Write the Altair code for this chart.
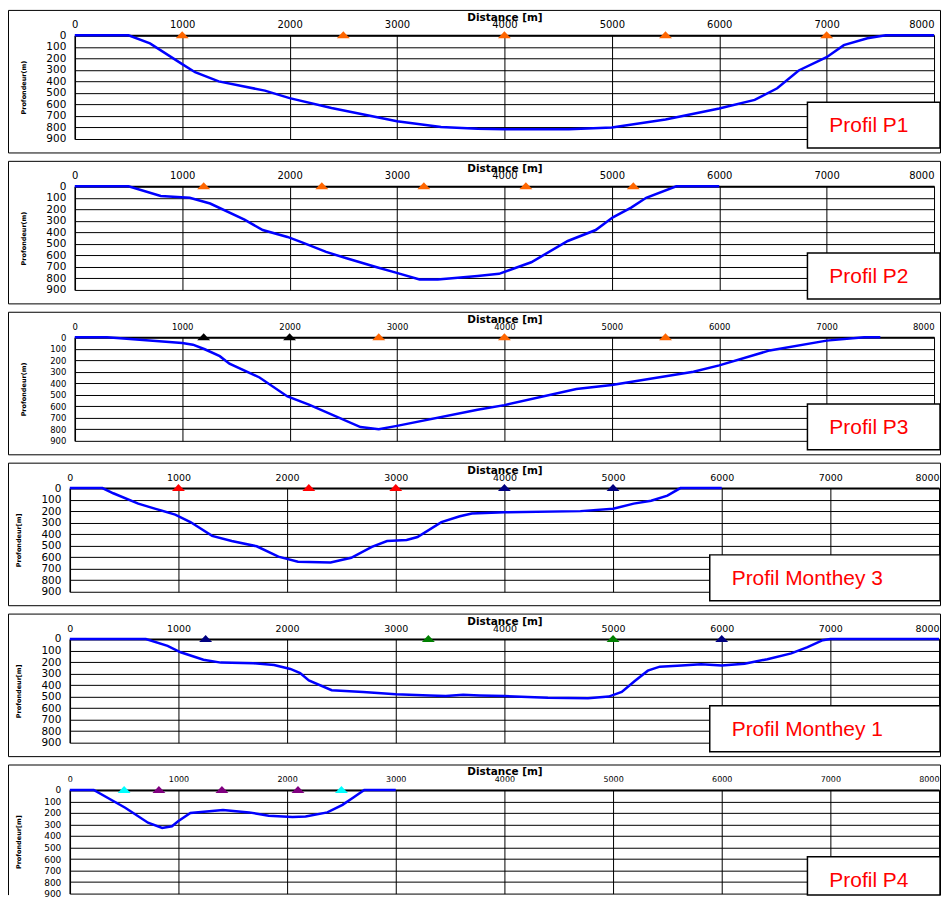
import altair as alt
import pandas as pd

# ---------------- data ----------------
X_TICKS = [0, 1000, 2000, 3000, 4000, 5000, 6000, 7000, 8000]
Y_TICKS = [0, 100, 200, 300, 400, 500, 600, 700, 800, 900]

p1_dist = [0, 500, 700, 1000, 1120, 1340, 1770, 2000, 2390, 3000, 3410, 3750, 4000, 4600,
           5000, 5500, 6000, 6330, 6540, 6740, 7000, 7160, 7380, 7550, 8000]
p1_depth = [0, 0, 70, 250, 320, 400, 480, 545, 630, 745, 795, 810, 815, 815,
            800, 730, 635, 560, 460, 305, 190, 85, 25, 0, 0]
p1_tri_dist = [1000, 2500, 4000, 5500, 7000]
p1_tri_kind = ["orange", "orange", "orange", "orange", "orange"]

p2_dist = [0, 500, 800, 1070, 1260, 1580, 1750, 1980, 2110, 2340, 2530, 2820, 2990, 3210,
           3380, 3750, 3950, 4250, 4590, 4850, 5010, 5180, 5320, 5600, 6000]
p2_depth = [0, 0, 85, 100, 150, 290, 380, 440, 485, 570, 625, 705, 750, 810,
            810, 780, 760, 660, 475, 380, 270, 185, 100, 0, 0]
p2_tri_dist = [1200, 2300, 3250, 4200, 5200]
p2_tri_kind = ["orange", "orange", "orange", "orange", "orange"]

p3_dist = [0, 300, 1000, 1100, 1210, 1350, 1440, 1720, 1980, 2180, 2660, 2830, 3000, 3750,
           4000, 4670, 5000, 5760, 6000, 6470, 7000, 7350, 7500]
p3_depth = [0, 0, 50, 65, 105, 165, 230, 350, 515, 585, 780, 800, 770, 630,
            590, 450, 415, 300, 245, 115, 30, 0, 0]
p3_tri_dist = [1200, 2000, 2830, 4000, 5500]
p3_tri_kind = ["black", "black", "orange", "orange", "orange"]

m3_dist = [0, 300, 400, 630, 790, 970, 1110, 1310, 1490, 1720, 1920, 2100, 2400, 2590, 2780,
           2920, 3100, 3200, 3420, 3590, 3700, 4000, 4700, 5000, 5190, 5350, 5500, 5620, 6000]
m3_depth = [0, 0, 45, 135, 180, 230, 295, 415, 460, 505, 595, 640, 645, 605, 510,
            460, 450, 425, 295, 245, 220, 210, 200, 180, 135, 110, 65, 0, 0]
m3_tri_dist = [1000, 2200, 3000, 4000, 5000]
m3_tri_kind = ["red", "red", "red", "navy", "navy"]

m1_dist = [0, 700, 900, 1020, 1230, 1390, 1690, 1880, 2030, 2120, 2200, 2410, 2700, 3000,
           3310, 3460, 3620, 3770, 4000, 4400, 4770, 4960, 5080, 5200, 5320, 5430, 5630,
           5810, 6000, 6210, 6420, 6640, 6790, 6930, 7000, 8000]
m1_depth = [0, 0, 60, 115, 180, 205, 210, 225, 260, 295, 360, 445, 460, 480,
            490, 495, 485, 490, 495, 510, 515, 500, 460, 365, 275, 240, 230,
            220, 230, 215, 175, 125, 70, 10, 0, 0]
m1_tri_dist = [1250, 3300, 5000, 6000]
m1_tri_kind = ["navy", "green", "green", "navy"]

p4_dist = [0, 220, 510, 720, 850, 940, 1000, 1110, 1410, 1650, 1830, 2050, 2170, 2370,
           2510, 2610, 2710, 3000]
p4_depth = [0, 0, 155, 285, 330, 315, 270, 200, 175, 195, 225, 235, 230, 195,
            130, 65, 0, 0]
p4_tri_dist = [500, 820, 1400, 2100, 2500]
p4_tri_kind = ["cyan", "purple", "purple", "purple", "cyan"]

KINDS = ["orange", "black", "red", "navy", "green", "cyan", "purple"]
KIND_COLORS = ["#FF6600", "#000000", "#FF0000", "#000080", "#008000", "#00FFFF", "#800080"]

# ---------------- styling ----------------
FONT = "DejaVu Sans"
TRI = "M-1,0.46L1,0.46L0,-0.62Z"
H = 104
PAGE_L, PAGE_R = 8.5, 943.5   # frame edges on the page (svg must stay <= 936 px wide)


def panel(dist, depth, tri_dist, tri_kind, label, ytitle, width, x0, box_left,
          xlab=10, ylab=10.5, frame_bottom=118, box_bottom=113, open_bottom=False):
    prof = pd.DataFrame({"distance": dist, "depth": depth})
    tri = pd.DataFrame({"distance": tri_dist, "depth": [0] * len(tri_dist), "kind": tri_kind})
    one = pd.DataFrame({"k": [0]})

    xsc = alt.Scale(domain=[0, 8000], nice=False, zero=False)
    ysc = alt.Scale(domain=[0, 900], reverse=True, nice=False)

    xaxis = alt.Axis(orient="top", values=X_TICKS, format="d", title="Distance [m]",
                     grid=True, gridColor="#000", gridOpacity=1, gridWidth=1,
                     domainColor="#000", domainWidth=2, ticks=False, tickSize=0,
                     labelPadding=6, labelFont=FONT, labelFontSize=xlab, labelColor="#000",
                     labelAlign={"condition": {"test": "datum.value >= 8000", "value": "right"},
                                 "value": "center"},
                     labelFlush=False, labelOverlap=False,
                     titleFont=FONT, titleFontSize=10.5, titleFontWeight="bold",
                     titleColor="#000", titleY=-15, titleBaseline="alphabetic")
    yaxis = alt.Axis(orient="left", values=Y_TICKS, format="d", title=ytitle,
                     grid=True, gridColor="#000", gridOpacity=1, gridWidth=1,
                     domainColor="#000", domainWidth=1.5, ticks=False, tickSize=0,
                     labelPadding=9, labelFont=FONT, labelFontSize=ylab, labelColor="#000",
                     labelFlush=False, labelOverlap=False,
                     titleFont=FONT, titleFontSize=6.5, titleFontWeight="bold",
                     titleColor="#000", titleX=-51, titleY=H / 2, titleAngle=270,
                     titleAlign="center", titleBaseline="middle")

    fl = PAGE_L - x0      # frame left, relative to plot origin
    fr = PAGE_R - x0      # frame right
    if open_bottom:
        frame = alt.layer(
            alt.Chart(one).mark_rule(color="#000", strokeWidth=1).encode(
                x=alt.value(fl), x2=alt.value(fr), y=alt.value(-25)),
            alt.Chart(one).mark_rule(color="#000", strokeWidth=1).encode(
                x=alt.value(fl), y=alt.value(-25), y2=alt.value(frame_bottom)),
            alt.Chart(one).mark_rule(color="#000", strokeWidth=1).encode(
                x=alt.value(fr), y=alt.value(-25), y2=alt.value(frame_bottom)),
        )
    else:
        frame = alt.Chart(one).mark_rect(fillOpacity=0, stroke="#000", strokeWidth=1).encode(
            x=alt.value(fl), x2=alt.value(fr), y=alt.value(-25), y2=alt.value(frame_bottom))

    line = alt.Chart(prof).mark_line(color="#0000FF", strokeWidth=2.5).encode(
        x=alt.X("distance:Q", scale=xsc, axis=xaxis),
        y=alt.Y("depth:Q", scale=ysc, axis=yaxis),
        order="distance:Q",
    )
    marks = alt.Chart(tri).mark_point(shape=TRI, filled=True, opacity=1, size=169).encode(
        x=alt.X("distance:Q", scale=xsc, axis=xaxis),
        y=alt.Y("depth:Q", scale=ysc, axis=yaxis),
        color=alt.Color("kind:N", scale=alt.Scale(domain=KINDS, range=KIND_COLORS), legend=None),
    )
    bl = box_left - x0
    box = alt.Chart(one).mark_rect(fill="#FFFFFF", stroke="#000", strokeWidth=1.5).encode(
        x=alt.value(bl), x2=alt.value(fr - 0.5), y=alt.value(67), y2=alt.value(box_bottom))
    txt = alt.Chart(one).mark_text(align="left", baseline="alphabetic", font="Liberation Sans",
                                   fontSize=21, color="#FF0000").encode(
        x=alt.value(bl + 22), y=alt.value(97), text=alt.value(label))

    return alt.layer(line, marks, frame, box, txt).properties(width=width, height=H)


W_A, W_B = 862, 872      # panels 1-3 are centred, i.e. shifted right by 5 px
XA, XB = 75, 70          # plot-area left edge on the page

panels = [
    panel(p1_dist, p1_depth, p1_tri_dist, p1_tri_kind, "Profil P1", "Profondeur(m)", W_A, XA, 810),
    panel(p2_dist, p2_depth, p2_tri_dist, p2_tri_kind, "Profil P2", "Profondeur(m)", W_A, XA, 810),
    panel(p3_dist, p3_depth, p3_tri_dist, p3_tri_kind, "Profil P3", "Profondeur(m)", W_A, XA, 810,
          xlab=8.5, ylab=8.5),
    panel(m3_dist, m3_depth, m3_tri_dist, m3_tri_kind, "Profil Monthey 3", "Profondeur[m]", W_B, XB, 712,
          xlab=9.5),
    panel(m1_dist, m1_depth, m1_tri_dist, m1_tri_kind, "Profil Monthey 1", "Profondeur[m]", W_B, XB, 712,
          xlab=9.5),
    panel(p4_dist, p4_depth, p4_tri_dist, p4_tri_kind, "Profil P4", "Profondeur[m]", W_B, XB, 810,
          xlab=8, ylab=9, frame_bottom=105.5, box_bottom=105.5, open_bottom=True),
]

chart = alt.vconcat(*panels, spacing=47.4, bounds="flush", center=True).properties(
    padding={"left": 0, "top": 0, "right": 0, "bottom": 0}, background="#FFFFFF"
).configure_view(stroke=None)

chart.save("out.html", embed_options={"renderer": "svg", "actions": False})
